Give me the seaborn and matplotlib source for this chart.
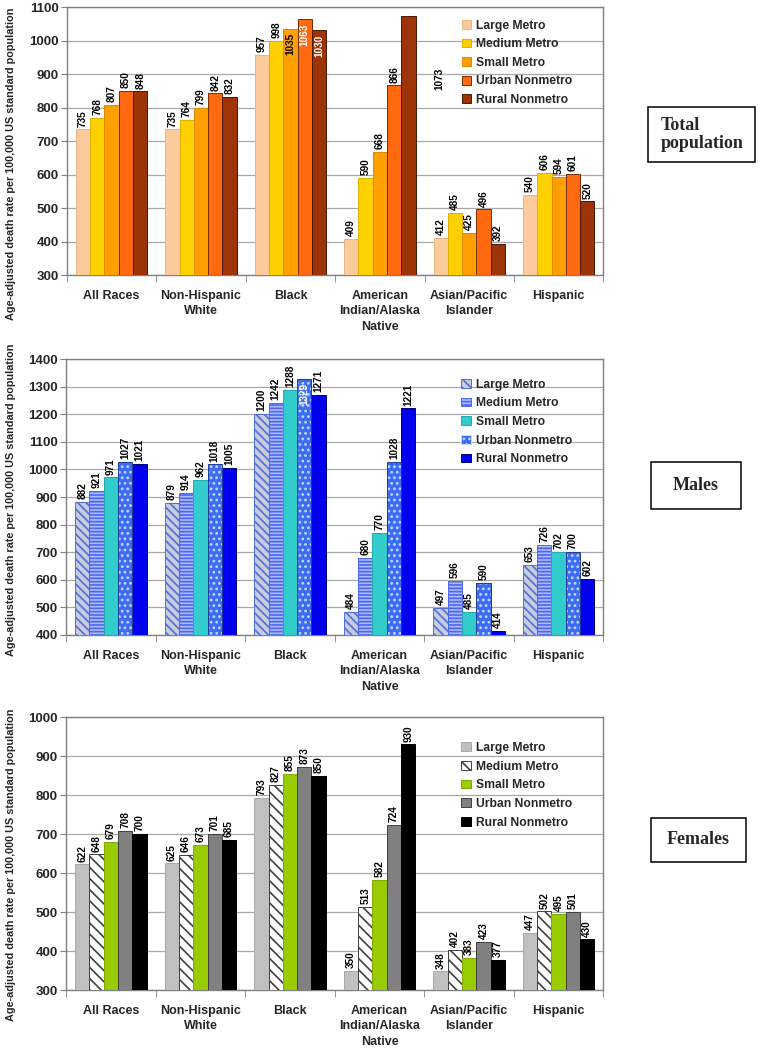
import numpy as np
import pandas as pd
import matplotlib
matplotlib.use("Agg")
import matplotlib.pyplot as plt
import seaborn as sns
from matplotlib.patches import Patch, Rectangle

categories = ["All Races", "Non-Hispanic\nWhite", "Black",
              "American\nIndian/Alaska\nNative", "Asian/Pacific\nIslander", "Hispanic"]
regions = ["Large Metro", "Medium Metro", "Small Metro", "Urban Nonmetro", "Rural Nonmetro"]

# Total population
total_large = [735, 735, 957, 409, 412, 540]
total_medium = [768, 764, 998, 590, 485, 606]
total_small = [807, 799, 1035, 668, 425, 594]
total_urban = [850, 842, 1063, 866, 496, 601]
total_rural = [848, 832, 1030, 1073, 392, 520]

# Males
male_large = [882, 879, 1200, 484, 497, 653]
male_medium = [921, 914, 1242, 680, 596, 726]
male_small = [971, 962, 1288, 770, 485, 702]
male_urban = [1027, 1018, 1329, 1028, 590, 700]
male_rural = [1021, 1005, 1271, 1221, 414, 602]

# Females
female_large = [622, 625, 793, 350, 348, 447]
female_medium = [648, 646, 827, 513, 402, 502]
female_small = [679, 673, 855, 582, 383, 495]
female_urban = [708, 701, 873, 724, 423, 501]
female_rural = [700, 685, 850, 930, 377, 430]

ylabel = "Age-adjusted death rate per 100,000 US standard population"

sns.set_style("white")
plt.rcParams["font.family"] = ["Liberation Sans", "DejaVu Sans"]
plt.rcParams["font.weight"] = "bold"
plt.rcParams["hatch.linewidth"] = 1.2

fig = plt.figure(figsize=(7.6, 10.49), dpi=100)
W, H = 760, 1049

panels = [
    dict(vals=[total_large, total_medium, total_small, total_urban, total_rural],
         ylim=(300, 1100), rect=[0.088, 0.7378, 0.706, 0.2555], leg_y=0.985, ylab_y=0.415,
         styles=[dict(fc="#FBCB9B", ec="#E8B585", hatch=None, txt="black"),
                 dict(fc="#FFD000", ec="#E0B000", hatch=None, txt="black"),
                 dict(fc="#FFA000", ec="#E08A00", hatch=None, txt="black"),
                 dict(fc="#FF6A10", ec="#7A2A00", hatch=None, txt="white"),
                 dict(fc="#9C3408", ec="#4A1800", hatch=None, txt="white")],
         nudge={(4, 3): (22, -44)},
         title="Total\npopulation", box=(648, 107, 755, 162), tx=661, ha="left"),
    dict(vals=[male_large, male_medium, male_small, male_urban, male_rural],
         ylim=(400, 1400), rect=[0.087, 0.3947, 0.707, 0.263], leg_y=0.96, ylab_y=0.49,
         styles=[dict(fc="#C9CCDD", ec="#4F6FE0", hatch="\\\\\\\\", txt="black"),
                 dict(fc="#AEBBFF", ec="#4A66F2", hatch="-----", txt="black"),
                 dict(fc="#33CCCC", ec="#22AAAA", hatch=None, txt="black"),
                 dict(fc="#3A6CF6", ec="#C8D6FF", hatch="...", outline="#1F3A9A", txt="white"),
                 dict(fc="#0000EE", ec="#00007A", hatch=None, txt="white")],
         nudge={},
         title="Males", box=(651, 462, 741, 509), tx=696, ha="center"),
    dict(vals=[female_large, female_medium, female_small, female_urban, female_rural],
         ylim=(300, 1000), rect=[0.087, 0.0562, 0.707, 0.2602], leg_y=0.94, ylab_y=0.46,
         styles=[dict(fc="#C0C0C0", ec="#A8A8A8", hatch=None, txt="black"),
                 dict(fc="#FFFFFF", ec="#404040", hatch="\\\\\\", txt="black"),
                 dict(fc="#99CC00", ec="#80AA00", hatch=None, txt="black"),
                 dict(fc="#808080", ec="#404040", hatch=None, txt="white"),
                 dict(fc="#000000", ec="#000000", hatch=None, txt="white")],
         nudge={},
         title="Females", box=(651, 818, 746, 862), tx=698, ha="center"),
]

label_fs = 7.2
for pn in panels:
    ax = fig.add_axes(pn["rect"])
    rows = []
    for r, vals in zip(regions, pn["vals"]):
        for c, v in zip(categories, vals):
            rows.append(dict(group=c, region=r, value=v))
    df = pd.DataFrame(rows)
    styles = pn["styles"]
    sns.barplot(data=df, x="group", y="value", hue="region", order=categories,
                hue_order=regions, palette=[s["fc"] for s in styles], saturation=1,
                width=0.8, legend=False, ax=ax, linewidth=0.7, zorder=3)
    ymin, ymax = pn["ylim"]
    ax.set_ylim(ymin, ymax)
    ax.set_xlim(-0.5, len(categories) - 0.5)
    ax_h_px = pn["rect"][3] * fig.get_figheight() * fig.dpi
    for ri, (cont, st, vals) in enumerate(zip(ax.containers, styles, pn["vals"])):
        for ci, (p, v) in enumerate(zip(cont, vals)):
            p.set_facecolor(st["fc"])
            p.set_edgecolor(st["ec"])
            if st["hatch"]:
                p.set_hatch(st["hatch"])
            if st.get("outline"):
                ax.add_patch(Rectangle(p.get_xy(), p.get_width(), p.get_height(),
                                       fill=False, ec=st["outline"], lw=0.7, zorder=4))
            xc = p.get_x() + p.get_width() / 2
            txt = str(v)
            need_px = len(txt) * 0.62 * label_fs * fig.dpi / 72 + 4
            room_px = (ymax - v) / (ymax - ymin) * ax_h_px
            if (ri, ci) in pn["nudge"]:
                dx, dy = pn["nudge"][(ri, ci)]
                ax.annotate(txt, (xc, ymax), xytext=(dx, dy), textcoords="offset points",
                            rotation=90, ha="center", va="top", fontsize=label_fs,
                            fontweight="bold", color="black", zorder=5,
                            annotation_clip=False)
            elif room_px >= need_px:
                ax.annotate(txt, (xc, v), xytext=(0, 2), textcoords="offset points",
                            rotation=90, ha="center", va="bottom", fontsize=label_fs,
                            fontweight="bold", color="black", zorder=5)
            else:
                ax.annotate(txt, (xc, v), xytext=(0, -3), textcoords="offset points",
                            rotation=90, ha="center", va="top", fontsize=label_fs,
                            fontweight="bold", color=st["txt"], zorder=5)
    ax.set_yticks(np.arange(ymin, ymax + 1, 100))
    ax.yaxis.grid(True, color="#A8A8A8", lw=0.9, zorder=0)
    ax.set_axisbelow(True)
    for s in ax.spines.values():
        s.set_visible(True)
        s.set_color("#808080")
        s.set_linewidth(1.0)
    ax.tick_params(axis="y", direction="out", length=4, color="#808080",
                   labelsize=9.5, pad=2, left=True)
    ax.set_xticks(range(len(categories)))
    ax.set_xticklabels(categories, fontsize=9, fontweight="bold", linespacing=1.35)
    ax.set_xticks(np.arange(-0.5, len(categories), 1), minor=True)
    ax.tick_params(axis="x", which="major", length=0, pad=11)
    ax.tick_params(axis="x", which="minor", direction="out", length=5,
                   color="#808080", bottom=True)
    for lab in ax.get_yticklabels():
        lab.set_fontweight("bold")
    ax.set_xlabel("")
    ax.set_ylabel(ylabel, fontsize=7.8, fontweight="bold")
    ax.yaxis.set_label_coords(-0.094, pn["ylab_y"])
    handles = []
    for r, st in zip(regions, styles):
        handles.append(Patch(facecolor=st["fc"],
                             edgecolor=st["ec"] if st["hatch"] else st.get("outline", st["ec"]),
                             hatch=st["hatch"], label=r, lw=0.7))
    ax.legend(handles=handles, loc="upper left", bbox_to_anchor=(0.72, pn["leg_y"]),
              frameon=False, handlelength=0.75, handleheight=0.75,
              handletextpad=0.45, labelspacing=0.55, borderaxespad=0.3,
              prop=dict(weight="bold", size=8.7))
    x0, y0, x1, y1 = pn["box"]
    fig.patches.append(Rectangle((x0 / W, 1 - y1 / H), (x1 - x0) / W, (y1 - y0) / H,
                                 transform=fig.transFigure, fill=False, ec="black", lw=1.1,
                                 figure=fig))
    fig.text(pn["tx"] / W, 1 - (y0 + y1) / 2 / H, pn["title"], family="Liberation Serif",
             fontsize=13, fontweight="bold", ha=pn["ha"], va="center", linespacing=1.1)

fig.savefig("out.png", dpi=100)
